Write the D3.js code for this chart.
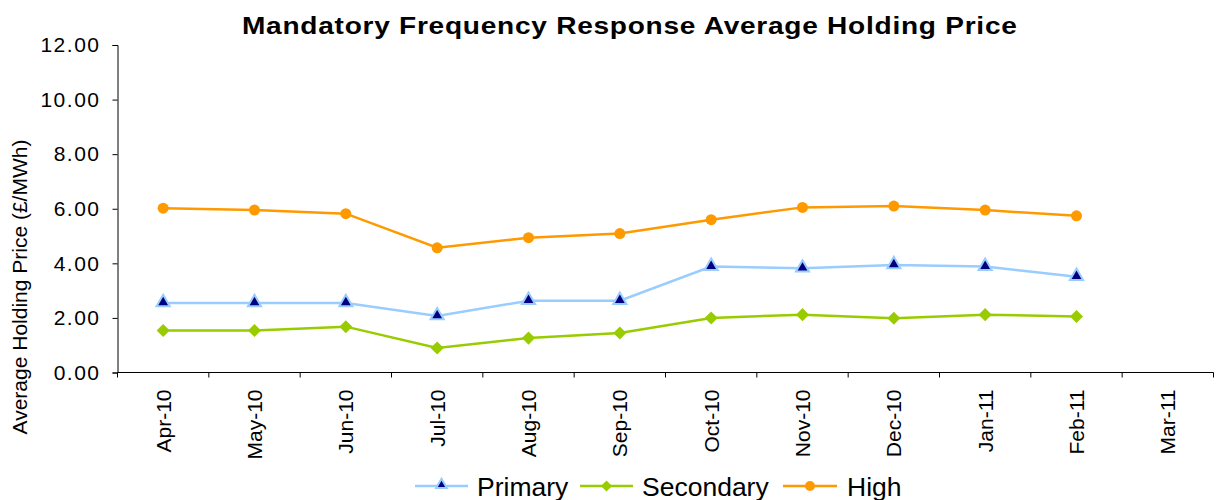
<!DOCTYPE html>
<html><head><meta charset="utf-8">
<script src="https://cdn.jsdelivr.net/npm/d3@7"></script>
<style>body{margin:0;background:#fff;} text{font-family:"Liberation Sans",Arial,sans-serif;}</style>
</head><body><svg id="c" width="1221" height="500"></svg>
<script>
const categories = ["Apr-10","May-10","Jun-10","Jul-10","Aug-10","Sep-10","Oct-10","Nov-10","Dec-10","Jan-11","Feb-11","Mar-11"];
const primary   = [2.55,2.55,2.55,2.07,2.63,2.63,3.88,3.82,3.94,3.88,3.51,null];
const secondary = [1.54,1.54,1.68,0.90,1.26,1.45,2.00,2.12,1.99,2.12,2.05,null];
const high      = [6.02,5.95,5.82,4.57,4.94,5.09,5.60,6.05,6.10,5.95,5.74,null];
const yTicks = [0,2,4,6,8,10,12];

const svg = d3.select("#c");
const x = d3.scaleBand().domain(categories).range([117.5,1213.5]);
const y = d3.scaleLinear().domain([0,12]).range([372.5,45]);

// title (stretched horizontally to match)
const title = svg.append("text").attr("y",34).attr("text-anchor","start")
  .attr("font-size",23).attr("font-weight","bold").attr("letter-spacing",0.6)
  .text("Mandatory Frequency Response  Average Holding Price");
const tw = title.node().getComputedTextLength();
title.attr("transform",`translate(242,0) scale(${776/tw},1)`);

// y axis
const ya = svg.append("g").attr("transform","translate(117.5,0)")
  .call(d3.axisLeft(y).tickValues(yTicks).tickFormat(d3.format(".2f")).tickSize(5).tickPadding(12));
ya.select(".domain").attr("stroke","#000");
ya.selectAll("line").attr("stroke","#000");
ya.selectAll("text").attr("font-size",21).attr("fill","#000").style("font-family","'Liberation Sans',Arial,sans-serif").attr("letter-spacing",1.5);

// x axis line + ticks between categories
const xa = svg.append("g").attr("transform","translate(0,372.5)");
xa.append("line").attr("x1",x.range()[0]).attr("x2",x.range()[1]).attr("stroke","#000");
const bounds = categories.map(c=>x(c)).concat([x.range()[1]]);
xa.selectAll("line.t").data(bounds).join("line").attr("class","t")
  .attr("x1",d=>d).attr("x2",d=>d).attr("y1",0).attr("y2",5).attr("stroke","#000");
xa.selectAll("text").data(categories).join("text")
  .attr("transform",d=>`translate(${x(d)+x.bandwidth()/2},17) rotate(-90)`)
  .attr("text-anchor","end").attr("dy","0.35em").attr("font-size",21).text(d=>d);

// y label
svg.append("text").attr("transform","translate(27,287) rotate(-90)").attr("text-anchor","middle")
  .attr("font-size",21).text("Average Holding Price (£/MWh)");

const cx = d => x(d)+x.bandwidth()/2;
function series(vals, color, width){
  const pts = categories.map((c,i)=>({c,v:vals[i]})).filter(p=>p.v!=null);
  svg.append("path").datum(pts).attr("fill","none").attr("stroke",color).attr("stroke-width",width)
    .attr("d",d3.line().x(p=>cx(p.c)).y(p=>y(p.v)));
  return pts;
}
const hp = series(high,"#FF9900",2.5);
const sp = series(secondary,"#99CC00",2.5);
const pp = series(primary,"#99CCFF",2.5);

const tri = d3.symbol().type(d3.symbolTriangle).size(75);
const dia = d3.symbol().type(d3.symbolSquare).size(85);
svg.selectAll("circle.h").data(hp).join("circle").attr("class","h")
  .attr("cx",p=>cx(p.c)).attr("cy",p=>y(p.v)).attr("r",5.5).attr("fill","#FF9900");
svg.selectAll("path.s").data(sp).join("path").attr("class","s").attr("d",dia)
  .attr("transform",p=>`translate(${cx(p.c)},${y(p.v)}) rotate(45)`).attr("fill","#99CC00");
svg.selectAll("path.p").data(pp).join("path").attr("class","p").attr("d",tri)
  .attr("transform",p=>`translate(${cx(p.c)},${y(p.v)-0.5})`).attr("fill","#000080").attr("stroke","#99CCFF").attr("stroke-width",2);

// legend
const leg = [
  {name:"Primary",color:"#99CCFF",x1:415,x2:468,tx:477,m:"tri"},
  {name:"Secondary",color:"#99CC00",x1:580,x2:633,tx:642,m:"dia"},
  {name:"High",color:"#FF9900",x1:783,x2:837,tx:847,m:"cir"}
];
const ly = 486;
leg.forEach(l=>{
  svg.append("line").attr("x1",l.x1).attr("x2",l.x2).attr("y1",ly).attr("y2",ly).attr("stroke",l.color).attr("stroke-width",2.5);
  const mx=(l.x1+l.x2)/2;
  if(l.m==="tri") svg.append("path").attr("d",d3.symbol().type(d3.symbolTriangle).size(50)).attr("transform",`translate(${mx},${ly-1})`).attr("fill","#000080").attr("stroke","#99CCFF").attr("stroke-width",2);
  else if(l.m==="dia") svg.append("path").attr("d",d3.symbol().type(d3.symbolSquare).size(60)).attr("transform",`translate(${mx},${ly}) rotate(45)`).attr("fill",l.color);
  else svg.append("circle").attr("cx",mx).attr("cy",ly).attr("r",5).attr("fill",l.color);
  svg.append("text").attr("x",l.tx).attr("y",ly+9.5).attr("font-size",26.5).text(l.name);
});
</script></body></html>
